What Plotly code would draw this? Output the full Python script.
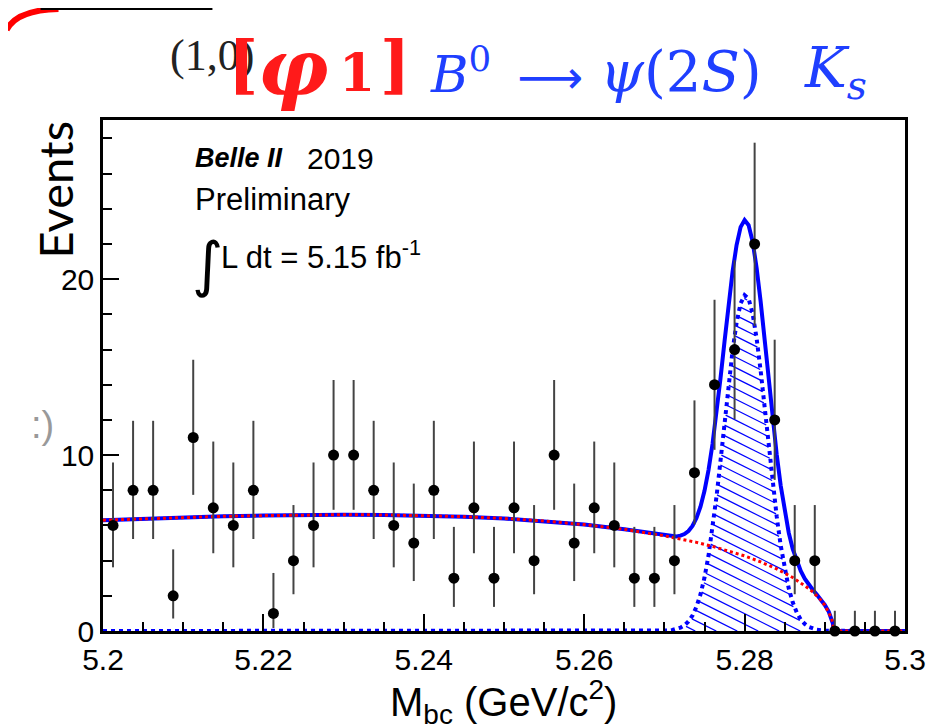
import numpy as np
import plotly.graph_objects as go

# ---------------- data ----------------
bin_centers = [5.20125, 5.20375, 5.20625, 5.20875, 5.21125, 5.21375, 5.21625, 5.21875, 5.22125, 5.22375,
               5.22625, 5.22875, 5.23125, 5.23375, 5.23625, 5.23875, 5.24125, 5.24375, 5.24625, 5.24875,
               5.25125, 5.25375, 5.25625, 5.25875, 5.26125, 5.26375, 5.26625, 5.26875, 5.27125, 5.27375,
               5.27625, 5.27875, 5.28125, 5.28375, 5.28625, 5.28875, 5.29125, 5.29375, 5.29625, 5.29875]
counts = [6, 8, 8, 2, 11, 7, 6, 8, 1, 4, 6, 10, 10, 8, 6, 5, 8, 3, 7, 3,
          7, 4, 10, 5, 7, 6, 3, 3, 4, 9, 14, 16, 22, 12, 4, 4, 0, 0, 0, 0]
err_low = [2.38, 2.77, 2.77, 1.29, 3.26, 2.58, 2.38, 2.77, 0.83, 1.91, 2.38, 3.11, 3.11, 2.77, 2.38, 2.16, 2.77, 1.63, 2.58, 1.63,
           2.58, 1.91, 3.11, 2.16, 2.58, 2.38, 1.63, 1.63, 1.91, 2.94, 3.70, 3.96, 4.66, 3.41, 1.91, 1.91, 0.0, 0.0, 0.0, 0.0]
err_high = [3.58, 3.95, 3.95, 2.64, 4.42, 3.77, 3.58, 3.95, 2.30, 3.16, 3.58, 4.27, 4.27, 3.95, 3.58, 3.38, 3.95, 2.92, 3.77, 2.92,
            3.77, 3.16, 4.27, 3.38, 3.77, 3.58, 2.92, 2.92, 3.16, 4.11, 4.83, 5.08, 5.76, 4.56, 3.16, 3.16, 1.15, 1.15, 1.15, 1.15]

# background (red dotted)
bkg_x = [5.200, 5.205, 5.210, 5.215, 5.220, 5.225, 5.230, 5.235, 5.240, 5.245, 5.250, 5.255, 5.260, 5.265,
         5.270, 5.272, 5.274, 5.276, 5.278, 5.280, 5.282, 5.284, 5.286, 5.287, 5.288, 5.2885, 5.289, 5.2895,
         5.290, 5.2905, 5.2908, 5.2910, 5.2911, 5.300]
bkg_y = [6.30, 6.38, 6.45, 6.52, 6.56, 6.60, 6.61, 6.60, 6.57, 6.50, 6.40, 6.25, 6.05, 5.78,
         5.41, 5.24, 5.04, 4.81, 4.56, 4.27, 3.93, 3.53, 3.04, 2.75, 2.41, 2.22, 2.00, 1.76,
         1.46, 1.08, 0.77, 0.44, 0.0, 0.0]

# total fit (blue solid)
total_x = [5.200, 5.205, 5.210, 5.215, 5.220, 5.225, 5.230, 5.235, 5.240, 5.245, 5.250, 5.255, 5.260, 5.265,
           5.2700, 5.2705, 5.2710, 5.2715, 5.2720, 5.2725, 5.2730, 5.2735, 5.2740, 5.2745,
           5.2750, 5.2755, 5.2760, 5.2765, 5.2770, 5.2775, 5.2780, 5.2785, 5.2790, 5.2795,
           5.2800, 5.2805, 5.2810, 5.2815, 5.2820, 5.2825, 5.2830, 5.2835, 5.2840, 5.2845,
           5.2850, 5.2855, 5.2860, 5.2865, 5.2870, 5.2875, 5.2880, 5.2885, 5.2890, 5.2895,
           5.2900, 5.2905, 5.2908, 5.2910, 5.2911, 5.300]
total_y = [6.30, 6.38, 6.45, 6.52, 6.56, 6.60, 6.61, 6.60, 6.57, 6.50, 6.40, 6.25, 6.05, 5.78,
           5.43, 5.40, 5.38, 5.38, 5.42, 5.51, 5.68, 5.97, 6.42, 7.07,
           7.97, 9.15, 10.63, 12.40, 14.38, 16.47, 18.54, 20.43, 21.94, 22.96,
           23.36, 23.07, 22.14, 20.64, 18.73, 16.54, 14.28, 12.07, 10.05, 8.27,
           6.79, 5.59, 4.67, 3.96, 3.41, 2.98, 2.64, 2.35, 2.07, 1.79,
           1.48, 1.09, 0.77, 0.44, 0.0, 0.0]

# signal (blue dotted, hatched)
sig_x = [5.200, 5.265,
         5.2700, 5.2705, 5.2710, 5.2715, 5.2720, 5.2725, 5.2730, 5.2735, 5.2740, 5.2745,
         5.2750, 5.2755, 5.2760, 5.2765, 5.2770, 5.2775, 5.2780, 5.2785, 5.2790, 5.2795,
         5.2800, 5.2805, 5.2810, 5.2815, 5.2820, 5.2825, 5.2830, 5.2835, 5.2840, 5.2845,
         5.2850, 5.2855, 5.2860, 5.2865, 5.2870, 5.2875, 5.2880, 5.2885, 5.2890, 5.2895,
         5.2900, 5.295, 5.300]
sig_y = [0.0, 0.0,
         0.01, 0.03, 0.06, 0.10, 0.19, 0.32, 0.54, 0.88, 1.38, 2.08,
         3.04, 4.28, 5.82, 7.65, 9.69, 11.85, 13.98, 15.94, 17.53, 18.62,
         19.09, 18.89, 18.04, 16.63, 14.80, 12.71, 10.55, 8.44, 6.52, 4.86,
         3.50, 2.43, 1.63, 1.06, 0.66, 0.40, 0.23, 0.13, 0.07, 0.04,
         0.02, 0.0, 0.0]

x_tick_vals = [5.20, 5.22, 5.24, 5.26, 5.28, 5.30]
x_tick_text = ["5.2", "5.22", "5.24", "5.26", "5.28", "5.3"]
y_tick_vals = [0, 10, 20]
y_tick_text = ["0", "10", "20"]

# ---------------- layout geometry ----------------
# the page body adds an 8 px offset, so the figure is 936x720 and starts at (8, 8)
OFF = 8
W, H = 936, 720
ML, MT = 94.5, 112
PW, PH = 802.5, 511
MR, MB = W - ML - PW, H - MT - PH
X_MIN, X_MAX = 5.2, 5.3
Y_MIN, Y_MAX = 0.0, 29.05
PLOT_LEFT, PLOT_BOTTOM = OFF + ML, OFF + MT + PH  # in window pixels


def pxx(x):  # window pixel -> paper
    return (x - PLOT_LEFT) / PW


def pxy(y):
    return (PLOT_BOTTOM - y) / PH


BLUE = "#0000ff"
RED = "#ff0000"

fig = go.Figure()

# hatch lines under the signal curve (computed from the signal arrays)
kx = PW / (X_MAX - X_MIN)
ky = PH / (Y_MAX - Y_MIN)
xf = np.linspace(5.266, 5.294, 8000)
sf = np.interp(xf, sig_x, sig_y) * ky
Xf = (xf - X_MIN) * kx
slope, spacing = 0.5, 10.5
hx, hy = [], []
b = 0.0 + slope * Xf.min()
bmax = sf.max() + slope * Xf.max()
while b < bmax:
    Yl = b - slope * Xf
    m = (Yl >= 0) & (Yl <= sf - 2.5)
    edges = np.flatnonzero(np.diff(np.concatenate([[0], m.astype(int), [0]])))
    for s, e in zip(edges[::2], edges[1::2]):
        e -= 1
        if e - s < 5:
            continue
        hx += [float(xf[s]), float(xf[e]), None]
        hy += [float(Yl[s] / ky), float(Yl[e] / ky), None]
    b += spacing

fig.add_trace(go.Scatter(x=hx, y=hy, mode="lines", line=dict(color=BLUE, width=1.3),
                         hoverinfo="skip", showlegend=False))
fig.add_trace(go.Scatter(x=sig_x, y=sig_y, mode="lines",
                         line=dict(color=BLUE, width=4, dash="dot"), showlegend=False))
fig.add_trace(go.Scatter(x=total_x, y=total_y, mode="lines",
                         line=dict(color=BLUE, width=4), showlegend=False))
fig.add_trace(go.Scatter(x=bkg_x, y=bkg_y, mode="lines",
                         line=dict(color=RED, width=3, dash="dot"), showlegend=False))
fig.add_trace(go.Scatter(x=bin_centers, y=counts, mode="markers",
                         marker=dict(color="black", size=11),
                         error_y=dict(type="data", symmetric=False, array=err_high, arrayminus=err_low,
                                      color="#444444", thickness=2, width=0),
                         cliponaxis=False, showlegend=False))

axis_font = dict(family="Liberation Sans, Arial, sans-serif", size=30, color="black")
fig.update_xaxes(range=[X_MIN, X_MAX], tickvals=x_tick_vals, ticktext=x_tick_text,
                 ticks="inside", ticklen=17, tickwidth=1.5, tickcolor="black",
                 minor=dict(tick0=5.2, dtick=0.005, ticks="inside", ticklen=9, tickwidth=1.5, tickcolor="black"),
                 showline=True, linewidth=2.5, linecolor="black", mirror=True,
                 showgrid=False, zeroline=False, tickfont=axis_font)
fig.update_yaxes(range=[Y_MIN, Y_MAX], tickvals=y_tick_vals, ticktext=y_tick_text,
                 ticks="inside", ticklen=16, tickwidth=1.5, tickcolor="black",
                 minor=dict(tick0=0, dtick=2, ticks="inside", ticklen=9, tickwidth=1.5, tickcolor="black"),
                 showline=True, linewidth=2.5, linecolor="black", mirror=True,
                 showgrid=False, zeroline=False, tickfont=axis_font)

ann = []


def add_text(text, x, y, size, family="Liberation Sans, Arial, sans-serif", color="black",
             xanchor="left", yanchor="middle", angle=0):
    ann.append(dict(text=text, x=pxx(x), y=pxy(y), xref="paper", yref="paper",
                    xanchor=xanchor, yanchor=yanchor, showarrow=False, textangle=angle,
                    font=dict(family=family, size=size, color=color)))


SERIF = "DejaVu Serif, Liberation Serif, serif"
# axis titles
add_text("Events", 54, 190, 47, family="Lato, sans-serif", xanchor="center", angle=-90)
add_text("M<sub>bc</sub> (GeV/c<sup>2</sup>)", 388, 702, 40)
# info block
add_text("<b><i>Belle II</i></b>", 193, 158, 27)
add_text("2019", 305, 158, 30)
add_text("Preliminary", 193, 199, 31)
add_text("∫", 190, 264, 60, family="DejaVu Sans, sans-serif")
add_text("L dt = 5.15 fb<sup>-1</sup>", 219, 255, 31)
# slide decorations / title
add_text("(1,0)", 168, 55, 44, family="Liberation Serif, serif", color="#222222")
add_text(":)", 28, 425, 38, color="#999999")
RED_T = "#ff1a1a"
add_text("<b>[</b>", 226, 63, 64, family=SERIF, color=RED_T)
add_text("<b><i>φ</i></b>", 256, 67, 78, family=SERIF, color=RED_T)
add_text("<b>1</b>", 337, 73, 52, family=SERIF, color=RED_T)
add_text("<b>]</b>", 378, 63, 64, family=SERIF, color=RED_T)
BLUE_T = "#1f3fff"
add_text("<i>B</i><sup>0</sup>", 428, 71, 51, family=SERIF, color=BLUE_T)
add_text("⟶", 550, 77, 46, family="DejaVu Sans, sans-serif", color=BLUE_T, xanchor="center")
add_text("<i>ψ</i>(2<i>S</i>)", 598, 71, 56, family=SERIF, color=BLUE_T)
add_text("<i>K</i><sub><i>s</i></sub>", 802, 71, 56, family=SERIF, color=BLUE_T)

shapes = [
    dict(type="path", xref="paper", yref="paper",
         path="M {:.4f},{:.4f} Q {:.4f},{:.4f} {:.4f},{:.4f}".format(pxx(6), pxy(30), pxx(16), pxy(10), pxx(58), pxy(9)),
         line=dict(color=RED, width=6)),
    dict(type="line", xref="paper", yref="paper", x0=pxx(40), y0=pxy(9), x1=pxx(212), y1=pxy(9),
         line=dict(color="black", width=2)),
]

fig.update_layout(width=W, height=H, margin=dict(l=ML, r=MR, t=MT, b=MB),
                  plot_bgcolor="white", paper_bgcolor="white", showlegend=False,
                  annotations=ann, shapes=shapes)

fig.write_html("out.html")
